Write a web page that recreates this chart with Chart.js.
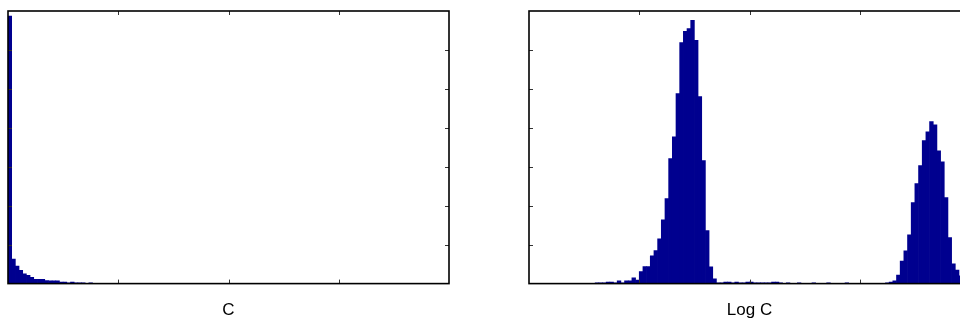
<!DOCTYPE html>
<html>
<head>
<meta charset="utf-8">
<script src="https://cdn.jsdelivr.net/npm/chart.js@4/dist/chart.umd.min.js"></script>
<style>
  html, body { margin: 0; padding: 0; background: #fff; width: 960px; height: 322px; overflow: hidden; position: relative; }
  .wrap { position: absolute; top: 0; width: 480px; height: 322px; }
  canvas { display: block; }
</style>
</head>
<body>
<div class="wrap" style="left:0px"><canvas id="c1" width="480" height="322"></canvas></div>
<div class="wrap" style="left:521px"><canvas id="c2" width="480" height="322"></canvas></div>
<script>
// ---- data ----
const binCount = 120;
const xTitleLeft = "C";
const xTitleRight = "Log C";
const yTicks = [1, 2, 3, 4, 5, 6];
const xTickBins = [30, 60, 90];   // bin boundaries where x tick marks sit
const yMax = 7;

const countsC = [
  6.87, 0.63, 0.45, 0.34, 0.25, 0.21, 0.16, 0.11, 0.11, 0.11,
  0.08, 0.07, 0.07, 0.07, 0.04, 0.04, 0.02, 0.04, 0.02, 0.02,
  0.02, 0.01, 0.02, 0.01, 0.01, 0.01, 0.01, 0.01, 0.01, 0.01,
  0.01, 0.01, 0.01, 0.01, 0.005, 0.005, 0, 0, 0, 0,
  0, 0, 0, 0, 0, 0, 0, 0, 0, 0,
  0, 0, 0, 0, 0, 0, 0, 0, 0, 0,
  0, 0, 0, 0, 0, 0, 0, 0, 0, 0,
  0, 0, 0, 0, 0, 0, 0, 0, 0, 0,
  0, 0, 0, 0, 0, 0, 0, 0, 0, 0,
  0, 0, 0, 0, 0, 0, 0, 0, 0, 0,
  0, 0, 0, 0, 0, 0, 0, 0, 0, 0,
  0, 0, 0, 0, 0, 0, 0, 0, 0, 0
];

const countsLogC = [
  0, 0, 0, 0, 0, 0, 0, 0, 0, 0,
  0, 0, 0, 0, 0, 0, 0, 0, 0.02, 0.02,
  0.02, 0.04, 0.04, 0.02, 0.07, 0.02, 0.07, 0.07, 0.15, 0.09,
  0.31, 0.44, 0.44, 0.71, 0.85, 1.15, 1.64, 2.18, 3.21, 3.77,
  4.88, 6.19, 6.48, 6.55, 6.76, 6.25, 4.80, 3.16, 1.36, 0.43,
  0.12, 0.02, 0.02, 0.04, 0.04, 0.02, 0.04, 0.02, 0.02, 0.04,
  0.04, 0.02, 0.02, 0.02, 0.02, 0.02, 0.04, 0.04, 0.02, 0.01,
  0.02, 0.01, 0.01, 0.02, 0.01, 0.01, 0.01, 0.02, 0.01, 0.01,
  0.01, 0.02, 0.01, 0.01, 0.01, 0.01, 0.02, 0.01, 0.01, 0.01,
  0.01, 0.01, 0.01, 0.01, 0.01, 0.01, 0.01, 0.02, 0.04, 0.07,
  0.22, 0.58, 0.84, 1.25, 2.08, 2.57, 3.03, 3.67, 3.90, 4.16,
  4.08, 3.41, 3.13, 2.21, 1.18, 0.51, 0.35, 0.20, 0.10, 0.05
];

const binLabels = Array.from({length: binCount}, (_, i) => String(i));

// ---- plugin: MATLAB-style box with inward ticks ----
const boxTicks = {
  id: 'boxTicks',
  afterDatasetsDraw(chart) {
    const {ctx, chartArea: a, scales} = chart;
    const x = scales.x, y = scales.y;
    ctx.save();
    ctx.strokeStyle = '#333';
    ctx.lineWidth = 1;
    const tl = 4;
    ctx.beginPath();
    xTickBins.forEach(b => {
      const px = Math.round(x.getPixelForValue(b - 0.5)) + 0.5;
      ctx.moveTo(px, a.bottom); ctx.lineTo(px, a.bottom - tl);
      ctx.moveTo(px, a.top); ctx.lineTo(px, a.top + tl);
    });
    yTicks.forEach(v => {
      const py = Math.round(y.getPixelForValue(v)) + 0.5;
      ctx.moveTo(a.left, py); ctx.lineTo(a.left + tl, py);
      ctx.moveTo(a.right, py); ctx.lineTo(a.right - tl, py);
    });
    ctx.stroke();
    ctx.strokeStyle = '#000';
    ctx.lineWidth = 1.6;
    ctx.strokeRect(a.left, a.top, a.right - a.left, a.bottom - a.top);
    ctx.restore();
  }
};

function makeChart(id, data, title) {
  return new Chart(document.getElementById(id), {
    type: 'bar',
    data: {
      labels: binLabels,
      datasets: [{
        data: data,
        backgroundColor: 'rgb(0,0,143)',
        borderWidth: 0,
        barPercentage: 1,
        categoryPercentage: 1
      }]
    },
    options: {
      responsive: false,
      animation: false,
      devicePixelRatio: 1,
      layout: { padding: { left: 8, right: 31, top: 11, bottom: 0 } },
      plugins: { legend: { display: false }, tooltip: { enabled: false } },
      scales: {
        x: {
          display: true,
          grid: { display: false, drawTicks: false },
          border: { display: false },
          ticks: { display: false },
          title: {
            display: true,
            text: title,
            color: '#000',
            font: { family: 'Liberation Sans, Arial, sans-serif', size: 17 },
            padding: { top: 17, bottom: 1 }
          }
        },
        y: {
          display: false,
          min: 0,
          max: yMax
        }
      }
    },
    plugins: [boxTicks]
  });
}

makeChart('c1', countsC, xTitleLeft);
makeChart('c2', countsLogC, xTitleRight);
</script>
</body>
</html>
